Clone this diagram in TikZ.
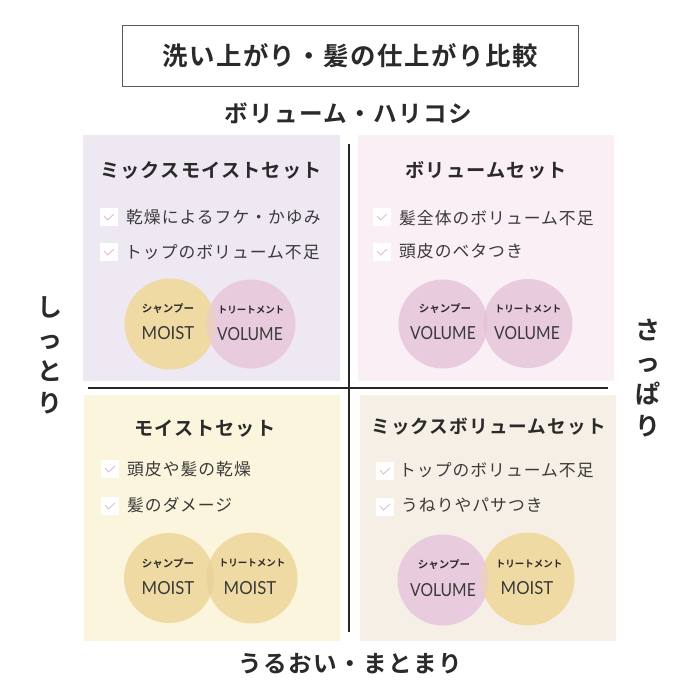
\documentclass[tikz,border=0pt]{standalone}
\usepackage{fontspec}
\setmainfont[BoldFont={Noto Sans CJK JP Bold}]{Noto Sans CJK JP}
\newfontfamily\latinf[FakeStretch=0.93]{Lato}
\newfontfamily\latinv[FakeStretch=0.87]{Lato}
\newfontfamily\tracked[LetterSpace=6]{Noto Sans CJK JP}
\newfontfamily\trackedb[LetterSpace=6]{Noto Sans CJK JP Bold}
\definecolor{ink}{HTML}{3A3A3A}
\definecolor{head}{HTML}{2A2A2A}
\definecolor{bgpurple}{HTML}{EEE8F2}
\definecolor{bgpink}{HTML}{F9EFF5}
\definecolor{bgyellow}{HTML}{FAF5DC}
\definecolor{bgbeige}{HTML}{F5EFE6}
\definecolor{moistc}{HTML}{F0DAA3}
\definecolor{volc}{HTML}{E9CBDE}
\definecolor{ovA}{HTML}{EBCFBF}
\definecolor{ovB}{HTML}{E5C3D7}
\definecolor{ovC}{HTML}{EAD29B}
\definecolor{checkc}{HTML}{E8BAD6}
\tikzset{
  x=1pt,y=-1pt,
  txt/.style={inner sep=0,text=head,anchor=center},
  heading/.style={txt,font=\trackedb\fontsize{19.2}{20}\selectfont},
  headingb/.style={txt,font=\trackedb\fontsize{18.6}{20}\selectfont},
  axislabel/.style={txt,font=\trackedb\fontsize{23.6}{24}\selectfont},
  vlabel/.style={txt,align=center,font=\trackedb\fontsize{25}{32}\selectfont},
  item/.style={inner sep=0,text=ink,anchor=west,font=\tracked\fontsize{16.8}{17}\selectfont},
  small/.style={txt,font=\bfseries\fontsize{10.5}{10.5}\selectfont},
  smallt/.style={txt,font=\bfseries\fontsize{9.5}{10}\selectfont},
  bigm/.style={txt,text=ink,font=\latinf\fontsize{18}{18}\selectfont},
  bigv/.style={txt,text=ink,font=\latinv\fontsize{18}{18}\selectfont},
}
\newcommand{\chk}[2]{%
  \fill[white] (#1-9,#2-9) rectangle (#1+9,#2+9);
  \draw[checkc,line width=0.9pt] (#1-5,#2-1) -- (#1-1.5,#2+3) -- (#1+5,#2-3);
}
\newcommand{\venn}[9]{%
  \fill[#4] (#1,#2) circle (#3);
  \fill[#8] (#5,#6) circle (#7);
  \begin{scope}
    \clip (#1,#2) circle (#3);
    \fill[#9] (#5,#6) circle (#7);
  \end{scope}
}
\begin{document}
\begin{tikzpicture}
\useasboundingbox (0,0) rectangle (700,700);
\fill[white] (0,0) rectangle (700,700);
\fill[bgpurple] (83,135) rectangle (340,381);
\fill[bgpink] (358,135) rectangle (614,381);
\fill[bgyellow] (84,395) rectangle (340,641);
\fill[bgbeige] (360,395) rectangle (616,641);
\draw[black!85,line width=1.5pt] (349,144) -- (349,632);
\draw[black!85,line width=1.5pt] (88,388) -- (608,388);
\node[draw=black!65,line width=0.7pt,minimum width=456pt,minimum height=61pt,inner sep=0] (title) at (350,55.5) {};
\node[txt,font=\trackedb\fontsize{25.4}{26}\selectfont] (titletext) at (350,56) {洗い上がり・髪の仕上がり比較};
\node[axislabel] (top) at (348.5,113) {ボリューム・ハリコシ};
\node[axislabel] (bottom) at (350,663.5) {うるおい・まとまり};
\node[vlabel] (left) at (50,355) {し\\っ\\と\\り};
\node[vlabel] (right) at (648,378) {さ\\っ\\ぱ\\り};
\node[heading] (h1) at (211,170) {ミックスモイストセット};
\node[heading] (h2) at (486,170) {ボリュームセット};
\node[heading] (h3) at (205,428.5) {モイストセット};
\node[headingb] (h4) at (488.5,426.5) {ミックスボリュームセット};
\chk{109}{217}\chk{109}{252}
\node[item] (a1) at (126,217) {乾燥によるフケ・かゆみ};
\node[item] (a2) at (125,252.5) {トップのボリューム不足};
\chk{382}{217}\chk{382}{252}
\node[item] (b1) at (399,218) {髪全体のボリューム不足};
\node[item] (b2) at (399,251.5) {頭皮のベタつき};
\chk{110}{469}\chk{110}{506}
\node[item] (c1) at (127,469.5) {頭皮や髪の乾燥};
\node[item] (c2) at (127,505.5) {髪のダメージ};
\chk{385}{471}\chk{385}{507}
\node[item] (d1) at (399,470.5) {トップのボリューム不足};
\node[item] (d2) at (401,505.5) {うねりやパサつき};
\venn{170}{324}{45.5}{moistc}{251}{324}{44.5}{volc}{ovA}
\venn{443}{324}{44.5}{volc}{528}{323.5}{44.5}{volc}{ovB}
\venn{169}{578}{45}{moistc}{252}{578}{45.5}{moistc}{ovC}
\venn{443}{580}{45.5}{volc}{528}{579}{46.5}{moistc}{ovA}
\node[small] (s1) at (168,309) {シャンプー};
\node[bigm] (m1) at (168,333.5) {MOIST};
\node[smallt] (t1) at (251,310) {トリートメント};
\node[bigv] (m2) at (250,334.5) {VOLUME};
\node[small] (s2) at (445,309) {シャンプー};
\node[bigv] (m3) at (443,333.5) {VOLUME};
\node[smallt] (t2) at (528,309) {トリートメント};
\node[bigv] (m4) at (527,333.5) {VOLUME};
\node[small] (s3) at (168,564) {シャンプー};
\node[bigm] (m5) at (168,588.5) {MOIST};
\node[smallt] (t3) at (252,563) {トリートメント};
\node[bigm] (m6) at (250,588.5) {MOIST};
\node[small] (s4) at (444,565) {シャンプー};
\node[bigv] (m7) at (443,590.5) {VOLUME};
\node[smallt] (t4) at (529,564) {トリートメント};
\node[bigm] (m8) at (527,588.5) {MOIST};
\end{tikzpicture}
\end{document}
